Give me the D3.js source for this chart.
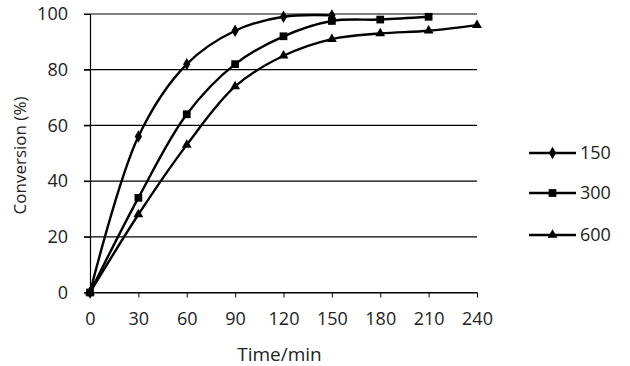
<!DOCTYPE html>
<html>
<head>
<meta charset="utf-8">
<script src="https://cdn.jsdelivr.net/npm/d3@7"></script>
<style>
  body { margin: 0; background: #fff; }
  text { font-family: "Open Sans", "Liberation Sans", sans-serif; fill: #222; }
</style>
</head>
<body>
<div id="chart-area"></div>
<script>
const times = [0, 30, 60, 90, 120, 150, 180, 210, 240]
const series150 = [0, 56, 82, 94, 99, 99.5]
const series300 = [0, 34, 64, 82, 92, 97.5, 98, 99]
const series600 = [0, 28, 53, 74, 85, 91, 93, 94, 96]
const seriesNames = ["150", "300", "600"]
const yTicks = [0, 20, 40, 60, 80, 100]

const W = 630, H = 366
const MARGIN = { LEFT: 90, RIGHT: 153, TOP: 14, BOTTOM: 73.5 }
const WIDTH = W - MARGIN.LEFT - MARGIN.RIGHT
const HEIGHT = H - MARGIN.TOP - MARGIN.BOTTOM

const svg = d3.select("#chart-area").append("svg")
  .attr("width", W)
  .attr("height", H)

const g = svg.append("g")
  .attr("transform", `translate(${MARGIN.LEFT}, ${MARGIN.TOP})`)

const x = d3.scaleLinear().domain([0, 240]).range([0, WIDTH])
const y = d3.scaleLinear().domain([0, 100]).range([HEIGHT, 0])

// gridlines
g.selectAll(".grid").data(yTicks).enter().append("line")
  .attr("x1", -6).attr("x2", WIDTH)
  .attr("y1", d => y(d)).attr("y2", d => y(d))
  .attr("stroke", "#000").attr("stroke-width", 1.2)

// y axis
const yAxis = g.append("g")
  .call(d3.axisLeft(y).tickValues(yTicks).tickSize(6).tickPadding(16))
yAxis.select(".domain").attr("stroke", "#000").attr("stroke-width", 1.2)
yAxis.selectAll("text").attr("font-size", "18px").attr("fill", "#222")
  .style("font-family", "'Open Sans', sans-serif")

// x axis
const xAxis = g.append("g")
  .attr("transform", `translate(0, ${HEIGHT})`)
  .call(d3.axisBottom(x).tickValues(times).tickSize(5).tickPadding(15).tickSizeOuter(0))
xAxis.select(".domain").attr("stroke", "#000").attr("stroke-width", 1.2)
xAxis.selectAll("line").attr("stroke", "#000")
xAxis.selectAll("text").attr("font-size", "18px").attr("fill", "#222")
  .style("font-family", "'Open Sans', sans-serif")

// labels
g.append("text")
  .attr("x", WIDTH / 2 - 4)
  .attr("y", HEIGHT + 68.5)
  .attr("font-size", "19px")
  .attr("text-anchor", "middle")
  .text("Time/min")

g.append("text")
  .attr("x", -141.5)
  .attr("y", -64)
  .attr("font-size", "17px")
  .attr("text-anchor", "middle")
  .attr("transform", "rotate(-90)")
  .text("Conversion (%)")

const allSeries = [series150, series300, series600]
const symbols = [
  d3.symbol().type(d3.symbolDiamond).size(45),
  d3.symbol().type(d3.symbolSquare).size(60),
  d3.symbol().type(d3.symbolTriangle).size(42)
]

const line = d3.line()
  .x((d, i) => x(times[i]))
  .y(d => y(d))
  .curve(d3.curveCatmullRom.alpha(0.5))

allSeries.forEach((s, k) => {
  g.append("path")
    .attr("d", line(s))
    .attr("fill", "none")
    .attr("stroke", "#000")
    .attr("stroke-width", 2.4)
  g.selectAll(".m" + k).data(s).enter().append("path")
    .attr("transform", (d, i) => `translate(${x(times[i])}, ${y(d)})`)
    .attr("d", symbols[k]())
    .attr("fill", "#000")
})

// legend
const legendY = [153, 193, 235]
const legend = svg.append("g")
seriesNames.forEach((name, k) => {
  const lg = legend.append("g").attr("transform", `translate(529, ${legendY[k]})`)
  lg.append("line").attr("x1", 0).attr("x2", 47).attr("stroke", "#000").attr("stroke-width", 2.4)
  lg.append("path").attr("transform", "translate(23.5, 0)").attr("d", symbols[k]()).attr("fill", "#000")
  lg.append("text").attr("x", 51).attr("dy", "0.36em").attr("font-size", "18px").text(name)
})
</script>
</body>
</html>
